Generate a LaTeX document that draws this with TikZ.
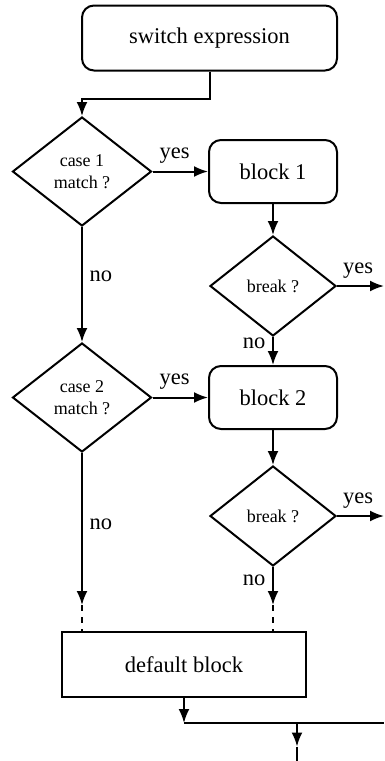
\documentclass[tikz,border=0pt]{standalone}
\usepackage{fontspec}
\setmainfont{Liberation Serif}
\usetikzlibrary{positioning,shapes.geometric,arrows.meta}
\tikzset{block/.style = {draw, rounded corners=6pt, minimum width=64pt, minimum height=31.5pt, font=\fontsize{11.25}{13}\selectfont}}
\tikzset{plainblock/.style = {draw, minimum width=122pt, minimum height=32.5pt, font=\fontsize{11.25}{13}\selectfont}}
\tikzset{decision/.style = {draw, diamond, aspect=1.28, inner sep=0pt, minimum width=69.5pt, minimum height=54.5pt, align=center, font=\fontsize{9}{11}\selectfont}}
\tikzset{breaktest/.style = {decision, aspect=1.25, minimum width=63pt, minimum height=50pt}}
\tikzset{lbl/.style = {font=\fontsize{11.25}{13}\selectfont}}

\begin{document}
\begin{tikzpicture}[>={Latex[length=7pt,width=5.5pt]}, on grid, line width=1pt]
  \useasboundingbox (-41pt,85.75pt) rectangle (151.5pt,-294.75pt);
  % left column: the case tests
  \node [decision] (case1) {case 1\\match ?};
  \node [decision, below=113pt of case1] (case2) {case 2\\match ?};
  \node [block, above right=66.75pt and 63.75pt of case1, minimum width=127.5pt, minimum height=32.5pt] (switch) {switch expression};
  % right column: the blocks and the break tests
  \node [block, right=95.5pt of case1] (block1) {block 1};
  \node [breaktest, below=57.25pt of block1] (break1) {break ?};
  \node [block, right=95.5pt of case2] (block2) {block 2};
  \node [breaktest, below=59.25pt of block2] (break2) {break ?};
  \node [plainblock, below right=133.5pt and 51pt of case2] (default) {default block};
  % free ends
  \coordinate (rim) at (151pt,0);
  \coordinate (out1) at (break1.east -| rim);
  \coordinate (out2) at (break2.east -| rim);
  \coordinate [below=103.75pt of case2] (end2);
  \coordinate [below=44.5pt of break2] (endbrk2);
  \coordinate (join) at ([yshift=-12.5pt]default.south);
  \coordinate (joinrim) at (join -| rim);
  \coordinate (exitx) at (107.5pt,0);
  \coordinate (merge) at (join -| exitx);
  \coordinate (exittip) at ([yshift=-11.75pt]merge);
  \coordinate (exitend) at ([yshift=-20pt]merge);

  \draw [->] (switch.south) -- ++(0,-13.5pt) -| (case1.north);
  \draw [->] (case1.east) -- node [lbl, above, pos=0.4] {yes} (block1.west);
  \draw [->] (case2.east) -- node [lbl, above, pos=0.4] {yes} (block2.west);
  \draw [->] (case1.south) -- node [lbl, right, pos=0.43] {no} (case2.north);
  \draw [->] (block1.south) -- (break1.north);
  \draw [->] (block2.south) -- (break2.north);
  \draw [->] (break1.east) -- node [lbl, above, pos=0.45] {yes} (out1);
  \draw [->] (break2.east) -- node [lbl, above, pos=0.45] {yes} (out2);
  \draw [->] (break1.south) -- node [lbl, left, pos=0.23] {no} (block2.north);
  \draw [->] (case2.south) -- node [lbl, right, pos=0.47] {no} (end2);
  \draw [->] (break2.south) -- node [lbl, left, pos=0.36] {no} (endbrk2);
  \draw [dashed] (end2) -- (end2 |- default.north);
  \draw [dashed] (endbrk2) -- (endbrk2 |- default.north);
  \draw [->] (default.south) -- (join);
  \draw (join) -- (joinrim);
  \draw [->] (merge) -- (exittip);
  \draw (exittip) -- (exitend);
\end{tikzpicture}
\end{document}
